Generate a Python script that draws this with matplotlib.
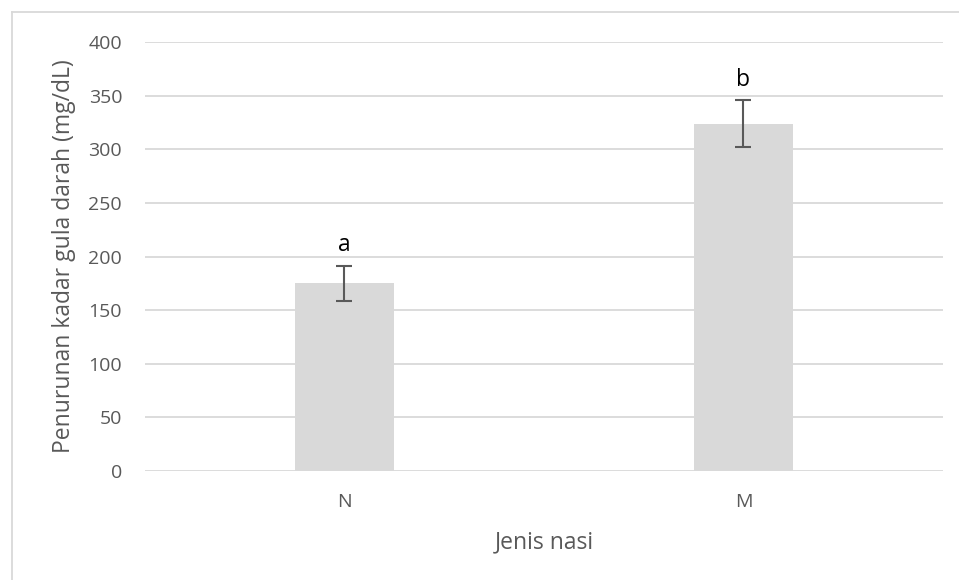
import matplotlib.pyplot as plt
from matplotlib.lines import Line2D

# Data
categories = ["N", "M"]
values = [175, 324]
errors = [16.5, 22]
letters = ["a", "b"]

plt.rcParams['font.family'] = ['Open Sans', 'DejaVu Sans']

fig = plt.figure(figsize=(9.59, 5.8), dpi=100)
ax = fig.add_axes([0.1512, 0.1884, 0.832, 0.7386])

x = range(len(categories))
ax.bar(x, values, width=0.25, color='#d9d9d9', zorder=2)
ax.errorbar(x, values, yerr=errors, fmt='none', ecolor='#595959',
            elinewidth=1.5, capsize=6, capthick=1.5, zorder=3)

for xi, v, e, lab in zip(x, values, errors, letters):
    ax.text(xi, v + e + 8, lab, ha='center', va='bottom', fontsize=16.5, color='black')

ax.set_xlim(-0.5, 1.5)
ax.set_ylim(0, 400)
ax.set_yticks(range(0, 401, 50))
ax.set_xticks(list(x))
ax.set_xticklabels(categories)
ax.grid(axis='y', color='#d9d9d9', linewidth=1.3, zorder=0)
ax.tick_params(axis='both', length=0, labelsize=14, colors='#595959')
ax.tick_params(axis='y', pad=16.5)
ax.tick_params(axis='x', pad=16)
for s in ax.spines.values():
    s.set_visible(False)

ax.set_xlabel("Jenis nasi", fontsize=16.5, color='#595959', labelpad=14)
ax.set_ylabel("Penurunan kadar gula darah (mg/dL)", fontsize=16.5, color='#595959')
ax.yaxis.set_label_coords(-0.086, 0.5)

# light border on left and top
fig.add_artist(Line2D([11.5 / 959, 11.5 / 959], [0, 1 - 12 / 580], color='#d9d9d9', linewidth=1.3))
fig.add_artist(Line2D([11.5 / 959, 1], [1 - 12 / 580, 1 - 12 / 580], color='#d9d9d9', linewidth=1.3))

fig.savefig("out.png", dpi=100)
